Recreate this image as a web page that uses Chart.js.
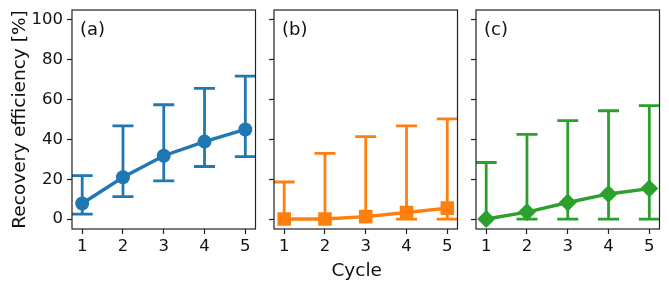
<!DOCTYPE html>
<html>
<head>
<meta charset="utf-8">
<script src="https://cdn.jsdelivr.net/npm/chart.js@4"></script>
<style>
  body { margin: 0; background: #fff; }
  canvas { position: absolute; top: 0; }
</style>
</head>
<body>
<canvas id="pa" width="260" height="292" style="left:0px"></canvas>
<canvas id="pb" width="200" height="292" style="left:260px"></canvas>
<canvas id="pc" width="209" height="292" style="left:460px"></canvas>
<script>
// data
const cycles = [1, 2, 3, 4, 5];
const yTicks = [0, 20, 40, 60, 80, 100];
const panelLabels = ['(a)', '(b)', '(c)'];
const yTitle = 'Recovery efficiency [%]';
const xTitle = 'Cycle';

const meanA = [7.8, 21, 31.8, 38.9, 45];
const lowA  = [2.5, 11.3, 19.2, 26.4, 31.4];
const highA = [21.8, 46.8, 57.4, 65.6, 71.8];

const meanB = [0, 0, 1.2, 3.3, 5.5];
const lowB  = [null, null, null, 0, 0];
const highB = [18.6, 33, 41.4, 46.8, 50.3];

const meanC = [0, 3.5, 8.3, 12.6, 15.3];
const lowC  = [null, 0, 0, 0, 0];
const highC = [28.4, 42.5, 49.4, 54.4, 57];

const FONT = 'DejaVu Sans';

const errorBars = {
  id: 'errorBars',
  beforeDatasetsDraw(chart, args, o) {
    const {ctx, chartArea: a, scales: {x, y}} = chart;
    ctx.save();
    ctx.beginPath();
    ctx.rect(a.left, a.top, a.width, a.height);
    ctx.clip();
    ctx.strokeStyle = o.color;
    ctx.lineWidth = 2.8;
    o.high.forEach((h, i) => {
      const px = x.getPixelForValue(cycles[i]);
      const lo = o.low[i] === null ? o.mean[i] : o.low[i];
      const yl = y.getPixelForValue(lo), yh = y.getPixelForValue(h);
      ctx.beginPath();
      ctx.moveTo(px, yl); ctx.lineTo(px, yh);
      ctx.moveTo(px - 10.5, yh); ctx.lineTo(px + 10.5, yh);
      if (o.low[i] !== null) {
        ctx.moveTo(px - 10.5, yl); ctx.lineTo(px + 10.5, yl);
      }
      ctx.stroke();
    });
    ctx.restore();
  }
};

const frame = {
  id: 'frame',
  afterDraw(chart, args, o) {
    const {ctx, chartArea: a} = chart;
    ctx.save();
    ctx.strokeStyle = '#222';
    ctx.lineWidth = 1.2;
    ctx.strokeRect(a.left, a.top, a.width, a.height);
    ctx.fillStyle = '#111';
    ctx.font = '18px "' + FONT + '"';
    ctx.textBaseline = 'alphabetic';
    ctx.fillText(o.label, a.left + 8, a.top + 24.5);
    if (o.xTitle) {
      ctx.font = '18.5px "' + FONT + '"';
      ctx.textAlign = 'center';
      ctx.fillText(o.xTitle, 96.7, 276);
    }
    ctx.restore();
  }
};

function panel(id, mean, low, high, color, style, radius, label, yWidth, rightPad, showY, showX) {
  new Chart(document.getElementById(id), {
    type: 'line',
    data: {
      datasets: [{
        data: cycles.map((c, i) => ({x: c, y: mean[i]})),
        borderColor: color,
        backgroundColor: color,
        borderWidth: 3.4,
        pointStyle: style,
        pointRadius: radius,
        pointBorderWidth: 0,
        pointBackgroundColor: color,
        tension: 0
      }]
    },
    plugins: [errorBars, frame],
    options: {
      responsive: false,
      animation: false,
      events: [],
      layout: {autoPadding: false, padding: {top: 10, right: rightPad, left: 0, bottom: 0}},
      plugins: {
        legend: {display: false},
        tooltip: {enabled: false},
        errorBars: {color: color, mean: mean, low: low, high: high},
        frame: {label: label, xTitle: showX ? xTitle : null}
      },
      scales: {
        x: {
          type: 'linear', min: 0.75, max: 5.25,
          border: {display: false},
          grid: {drawOnChartArea: false, drawTicks: true, tickLength: 5, tickColor: '#222', tickWidth: 1.2},
          ticks: {stepSize: 1, includeBounds: false, padding: 3, color: '#111', font: {family: FONT, size: 16.5}},
          afterFit(s) { s.height = 63; s.paddingLeft = 0; s.paddingRight = 0; }
        },
        y: {
          min: -5, max: 105,
          border: {display: false},
          grid: {drawOnChartArea: false, drawTicks: true, tickLength: 5, tickColor: '#222', tickWidth: 1.2},
          ticks: {
            stepSize: 20, includeBounds: false, padding: 4, display: showY,
            color: '#111', font: {family: FONT, size: 16.5}
          },
          afterBuildTicks(s) { s.ticks = yTicks.map(v => ({value: v})); },
          title: {display: showY, text: yTitle, color: '#111', font: {family: FONT, size: 18.5}, padding: {top: 9, bottom: 0}},
          afterFit(s) { s.width = yWidth; s.paddingTop = 0; s.paddingBottom = 0; }
        }
      }
    }
  });
}

panel('pa', meanA, lowA, highA, '#1f77b4', 'circle', 7, panelLabels[0], 72, 4.5, true, false);
panel('pb', meanB, lowB, highB, '#ff7f0e', 'rect', 9.6, panelLabels[1], 14, 2.5, false, true);
panel('pc', meanC, lowC, highC, '#2ca02c', 'rectRot', 9, panelLabels[2], 16, 9.5, false, false);
</script>
</body>
</html>
